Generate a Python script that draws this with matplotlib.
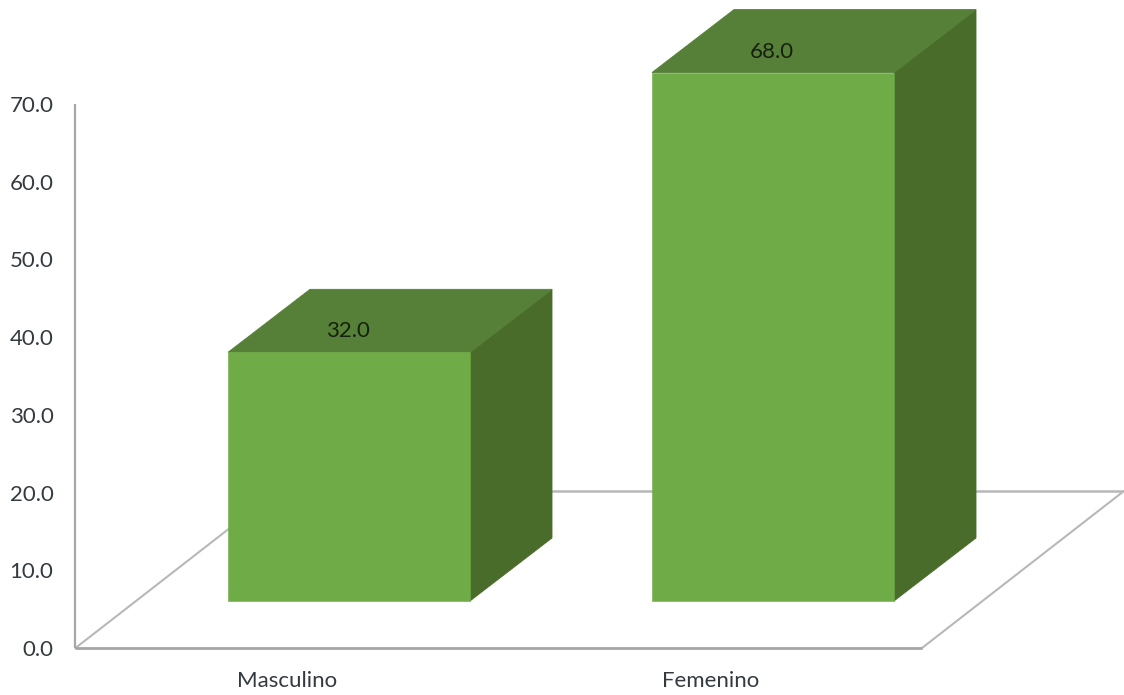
import matplotlib
matplotlib.use("Agg")
import matplotlib.pyplot as plt
from matplotlib.patches import Polygon

categories = ["Masculino", "Femenino"]
values = [32.0, 68.0]
y_ticks = [0, 10, 20, 30, 40, 50, 60, 70]

W, H = 1124, 695
PX_Y = 544 / 70      # pixels per value unit
PX_X = 424           # pixels per category
X0 = 349             # pixel of category 0 front-face centre
Y0 = 648             # pixel of value 0

BAR_W = 242 / PX_X
DX = 82 / PX_X       # depth offset, in category units
DY = 63 / PX_Y       # depth offset, in value units
BASE = 47 / PX_Y     # front-face base lift over the floor edge

FRONT, TOP, SIDE = "#6FAB47", "#568037", "#496C2A"
GREY = "#B8B8B8"
AXIS = "#A6A6A6"
TEXT = "#333A40"

plt.rcParams["font.family"] = ["Lato", "DejaVu Sans"]
fig = plt.figure(figsize=(W / 100, H / 100), dpi=100, facecolor="white")
ax = fig.add_axes([0, 0, 1, 1])
ax.set_xlim(-X0 / PX_X, (W - X0) / PX_X)
ax.set_ylim((Y0 - H) / PX_Y, Y0 / PX_Y)
ax.axis("off")

def px(x):
    return (x - X0) / PX_X

def py(y):
    return (Y0 - y) / PX_Y

# floor: left edge, back edge, right edge, then front edge and value axis
floor_l, floor_r = px(75.5), px(922)
fdx = 202 / PX_X
fdy = 157 / PX_Y
ax.plot([floor_l, floor_l + fdx], [0, fdy], color=GREY, lw=1.5, zorder=1)
ax.plot([floor_l + fdx, floor_r + fdx], [fdy, fdy], color=GREY, lw=1.8, zorder=1)
ax.plot([floor_r, floor_r + fdx], [0, fdy], color=GREY, lw=1.5, zorder=1)
ax.plot([floor_l, floor_r], [0, 0], color=AXIS, lw=2.0, zorder=2, solid_capstyle="butt")
ax.plot([floor_l, floor_l], [0, 70], color=AXIS, lw=1.6, zorder=2, solid_capstyle="butt")

for i, (name, v) in enumerate(zip(categories, values)):
    l, r = i - BAR_W / 2, i + BAR_W / 2
    b, t = BASE, BASE + v
    ax.add_patch(Polygon([(r, b), (r + DX, b + DY), (r + DX, t + DY), (r, t)],
                         fc=SIDE, ec=SIDE, lw=0.6, zorder=3))
    ax.add_patch(Polygon([(l, t), (l + DX, t + DY), (r + DX, t + DY), (r, t)],
                         fc=TOP, ec=TOP, lw=0.6, zorder=3))
    ax.add_patch(Polygon([(l, b), (r, b), (r, t), (l, t)],
                         fc=FRONT, ec=FRONT, lw=0.4, zorder=4))
    ax.text(i - 1.5 / PX_X, t + 23 / PX_Y, f"{v:.1f}", ha="center", va="center_baseline",
            fontsize=16, color="#16200F", zorder=5)
    ax.text(i - 62 / PX_X, py(679), name, ha="center", va="center_baseline",
            fontsize=16, color=TEXT, zorder=5)

for t in y_ticks:
    ax.text(px(53.5), t, f"{t:.1f}", ha="right", va="center_baseline",
            fontsize=16, color=TEXT, zorder=5)

fig.savefig("out.png", dpi=100, facecolor="white")
